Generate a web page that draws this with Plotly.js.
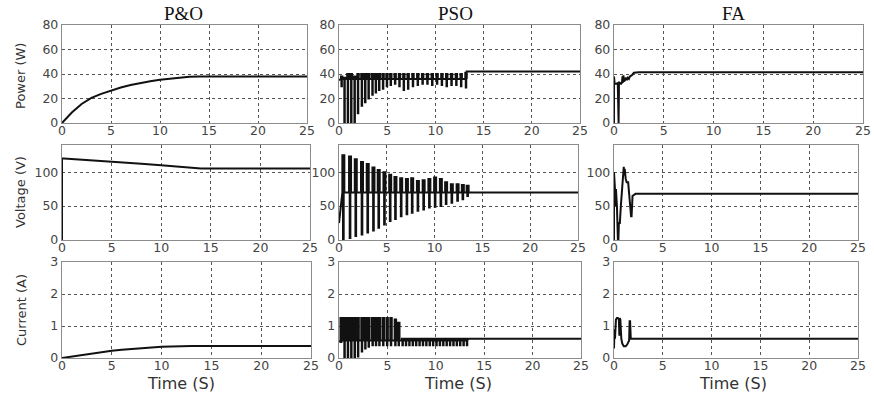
<!DOCTYPE html>
<html>
<head>
<meta charset="utf-8">
<script src="https://cdn.plot.ly/plotly-3.0.1.min.js"></script>
<style>html,body{margin:0;padding:0;background:#fff;}#chart{width:874px;height:393px;}</style>
</head>
<body>
<div id="chart"></div>
<script>
// ---------------- DATA ----------------
const colTitles = ["P&O", "PSO", "FA"];
const rowTitles = ["Power (W)", "Voltage (V)", "Current (A)"];
const xTitle = "Time (S)";
const xTicks = [0, 5, 10, 15, 20, 25];
const powerTicks = [0, 20, 40, 60, 80];
const voltageTicks = [0, 50, 100];
const currentTicks = [0, 1, 2, 3];

// P&O
const poT  = [0, 1, 2, 3, 4, 5, 6, 7, 8, 9, 10, 11, 12, 13, 14, 25];
const poP  = [0, 8.5, 15.5, 20.5, 23.8, 26.5, 29, 31, 32.7, 34.1, 35.3, 36.3, 37.1, 37.7, 38, 38];
const poVT = [0, 0, 0.2, 2, 5, 8, 10, 12, 14, 25];
const poV  = [0, 120, 120, 118.5, 115.5, 112.5, 110, 107.5, 105.5, 105.5];
const poIT = [0, 1, 2, 3, 4, 5, 6, 7, 8, 9, 10, 11, 12, 13, 25];
const poI  = [0, 0.05, 0.1, 0.15, 0.19, 0.23, 0.26, 0.29, 0.31, 0.33, 0.35, 0.36, 0.37, 0.375, 0.375];

// PSO power oscillation bars
const psoPT  = [0.2, 0.5, 0.85, 1.2, 1.55, 1.9, 2.3, 2.65, 3.0, 3.4, 3.75, 4.1, 4.5, 4.9, 5.3, 5.75, 6.2, 6.65, 7.1, 7.6, 8.1, 8.6, 9.1, 9.6, 10.1, 10.6, 11.1, 11.6, 12.1, 12.6, 13.1];
const psoPHi = [38, 37, 40, 40, 38, 40, 40, 40, 40, 40, 40, 40, 40, 40, 40, 40, 40, 40, 40, 40, 40, 40, 40, 40, 40, 40, 40, 40, 40, 40, 41];
const psoPLo = [30, 0, 0, 0, 0, 8, 14, 17, 20, 23, 25, 27, 28, 30, 31, 32, 30, 27, 28, 30, 31, 32, 32, 31, 32, 31, 30, 31, 31, 30, 29];
const psoPMid = 36, psoPStart = 35, psoPFinal = 42;

// PSO voltage oscillation bars
const psoVT  = [0.35, 1.05, 1.65, 2.3, 2.9, 3.5, 4.05, 4.65, 5.25, 5.8, 6.4, 7.0, 7.55, 8.15, 8.75, 9.35, 9.95, 10.55, 11.1, 11.7, 12.3, 12.85, 13.35];
const psoVHi = [125, 123, 119, 115, 112, 107, 103, 100, 96, 93, 91, 90, 91, 87, 88, 90, 92, 90, 85, 82, 82, 81, 80];
const psoVLo = [0, 3, 6, 8, 11, 14, 18, 23, 28, 31, 35, 38, 40, 43, 45, 48, 49, 50, 53, 55, 58, 60, 65];
const psoVMid = 70, psoVStart = 25, psoVFinal = 70;

// PSO current oscillation bars
const psoIT  = [0.15, 0.5, 0.85, 1.2, 1.55, 1.9, 2.3, 2.65, 3.0, 3.4, 3.75, 4.1, 4.5, 4.9, 5.3, 5.75, 6.1, 6.5, 6.85, 7.2, 7.55, 7.9, 8.25, 8.6, 8.95, 9.3, 9.65, 10.0, 10.35, 10.7, 11.05, 11.4, 11.75, 12.1, 12.45, 12.8, 13.15];
const psoIHi = [1.25, 1.25, 1.25, 1.25, 1.25, 1.25, 1.25, 1.25, 1.25, 1.25, 1.25, 1.25, 1.25, 1.25, 1.25, 1.2, 1.1, 0.6, 0.6, 0.6, 0.6, 0.6, 0.6, 0.6, 0.6, 0.6, 0.6, 0.6, 0.6, 0.6, 0.6, 0.6, 0.6, 0.6, 0.6, 0.6, 0.6];
const psoILo = [0.5, 0, 0, 0, 0, 0.05, 0.2, 0.3, 0.35, 0.4, 0.4, 0.4, 0.4, 0.4, 0.4, 0.4, 0.4, 0.4, 0.4, 0.4, 0.4, 0.4, 0.4, 0.4, 0.4, 0.4, 0.4, 0.4, 0.4, 0.4, 0.4, 0.4, 0.4, 0.4, 0.4, 0.4, 0.4];
const psoIMid = 0.55, psoIStart = 0.5, psoIFinal = 0.6;

// FA
const faPT = [0, 0, 0.05, 0.1, 0.3, 0.38, 0.42, 0.46, 0.5, 0.55, 0.7, 0.8, 0.85, 0.9, 0.95, 1.0, 1.1, 1.2, 1.3, 1.4, 1.5, 1.6, 1.8, 2.0, 2.5, 3, 4, 25];
const faP  = [0, 38, 33, 32, 32, 33, 0, 0, 33, 33, 32, 33, 38, 33, 39, 34, 35, 37, 35, 37, 36, 38, 39, 41, 41.5, 41.5, 41.5, 41.5];
const faVT = [0, 0, 0.1, 0.15, 0.2, 0.3, 0.4, 0.45, 0.5, 0.6, 0.7, 0.8, 0.9, 1.0, 1.05, 1.1, 1.2, 1.3, 1.45, 1.55, 1.65, 1.75, 1.8, 1.85, 1.9, 2.0, 2.2, 25];
const faV  = [0, 100, 75, 50, 75, 50, 0, 0, 25, 25, 50, 75, 100, 108, 95, 105, 90, 85, 85, 65, 50, 35, 35, 60, 65, 66, 68, 68];
const faIT = [0, 0.05, 0.1, 0.2, 0.3, 0.4, 0.5, 0.55, 0.6, 0.65, 0.75, 0.85, 1.0, 1.2, 1.35, 1.45, 1.55, 1.6, 1.65, 1.72, 1.78, 25];
const faI  = [0.3, 0.9, 0.6, 1.2, 1.25, 1.25, 1.2, 0.7, 1.25, 1.2, 0.6, 0.45, 0.37, 0.37, 0.42, 0.5, 0.55, 1.15, 1.15, 0.6, 0.6, 0.6];

// ---------------- BUILD ----------------
// square pulses from the read bar values
function bars(times, his, los, mid, start, finalV, w) {
  const x = [0], y = [start];
  for (let i = 0; i < times.length; i++) {
    const t = times[i];
    x.push(t, t, t + w, t + w, t + 2 * w, t + 2 * w, t + 3 * w);
    y.push(mid, his[i], his[i], los[i], los[i], his[i], his[i]);
    x.push(t + 3 * w);
    y.push(mid);
  }
  const last = times[times.length - 1] + 3 * w;
  x.push(last, 25);
  y.push(finalV, finalV);
  return {x, y};
}

const psoP = bars(psoPT, psoPHi, psoPLo, psoPMid, psoPStart, psoPFinal, 0.05);
const psoV = bars(psoVT, psoVHi, psoVLo, psoVMid, psoVStart, psoVFinal, 0.07);
const psoI = bars(psoIT, psoIHi, psoILo, psoIMid, psoIStart, psoIFinal, 0.05);

const series = [
  [ {x: poT, y: poP}, psoP, {x: faPT, y: faP} ],
  [ {x: poVT, y: poV}, psoV, {x: faVT, y: faV} ],
  [ {x: poIT, y: poI}, psoI, {x: faIT, y: faI} ]
];
const yRanges = [[0, 80], [0, 140], [0, 3]];
const yTicks = [powerTicks, voltageTicks, currentTicks];

const rowPx = [[25, 123], [145, 240], [262, 358]];
const colPx = [
  [[62, 307], [339, 580], [614, 863]],
  [[62, 310], [339, 578], [614, 858]],
  [[62, 311], [339, 581], [614, 858]]
];
const W = 874, H = 393;

const traces = [];
const layout = {
  width: W, height: H,
  margin: {l: 0, r: 0, t: 0, b: 0},
  paper_bgcolor: '#fff', plot_bgcolor: '#fff',
  showlegend: false,
  annotations: []
};
const tickFont = {family: 'DejaVu Sans', size: 12.5, color: '#444'};

for (let r = 0; r < 3; r++) {
  for (let c = 0; c < 3; c++) {
    const n = r * 3 + c + 1;
    const xa = n === 1 ? 'xaxis' : 'xaxis' + n;
    const ya = n === 1 ? 'yaxis' : 'yaxis' + n;
    const xr = n === 1 ? 'x' : 'x' + n;
    const yr = n === 1 ? 'y' : 'y' + n;
    const d = colPx[r][c];
    const rp = rowPx[r];
    layout[xa] = {
      domain: [d[0] / W, d[1] / W], anchor: yr,
      range: [0, 25], tickvals: xTicks, ticktext: xTicks.map(String),
      showline: true, mirror: true, linecolor: '#8c8c8c', linewidth: 1.2,
      showgrid: true, gridcolor: '#555', griddash: 'dot', gridwidth: 1,
      zeroline: false, ticks: '', tickfont: tickFont, fixedrange: true,
      ticklabelstandoff: -4
    };
    layout[ya] = {
      domain: [1 - rp[1] / H, 1 - rp[0] / H], anchor: xr,
      range: yRanges[r], tickvals: yTicks[r], ticktext: yTicks[r].map(String),
      showline: true, mirror: true, linecolor: '#8c8c8c', linewidth: 1.2,
      showgrid: true, gridcolor: '#555', griddash: 'dot', gridwidth: 1,
      zeroline: false, ticks: '', tickfont: tickFont, fixedrange: true
    };
    const s = series[r][c];
    traces.push({
      type: 'scatter', mode: 'lines', x: s.x, y: s.y,
      xaxis: xr, yaxis: yr, hoverinfo: 'skip',
      line: {color: '#111', width: 2}
    });
  }
}

// column titles
const titleX = [183, 455, 733];
colTitles.forEach((t, i) => {
  layout.annotations.push({
    text: t, x: titleX[i] / W, y: 1 - 13 / H, xref: 'paper', yref: 'paper',
    xanchor: 'center', yanchor: 'middle', showarrow: false,
    font: {family: 'Liberation Serif', size: 19, color: '#111'}
  });
});
// row (y axis) titles
const rowTitleY = [76, 192, 310];
rowTitles.forEach((t, i) => {
  layout.annotations.push({
    text: t, x: 21 / W, y: 1 - rowTitleY[i] / H, xref: 'paper', yref: 'paper',
    xanchor: 'center', yanchor: 'middle', showarrow: false, textangle: -90,
    font: {family: 'DejaVu Sans', size: 13, color: '#333'}
  });
});
// x titles under bottom row
const xTitleX = [181, 458, 733];
xTitleX.forEach(px => {
  layout.annotations.push({
    text: xTitle, x: px / W, y: 1 - 383 / H, xref: 'paper', yref: 'paper',
    xanchor: 'center', yanchor: 'middle', showarrow: false,
    font: {family: 'DejaVu Sans', size: 16, color: '#333'}
  });
});

Plotly.newPlot('chart', traces, layout, {staticPlot: true, displayModeBar: false});
</script>
</body>
</html>
